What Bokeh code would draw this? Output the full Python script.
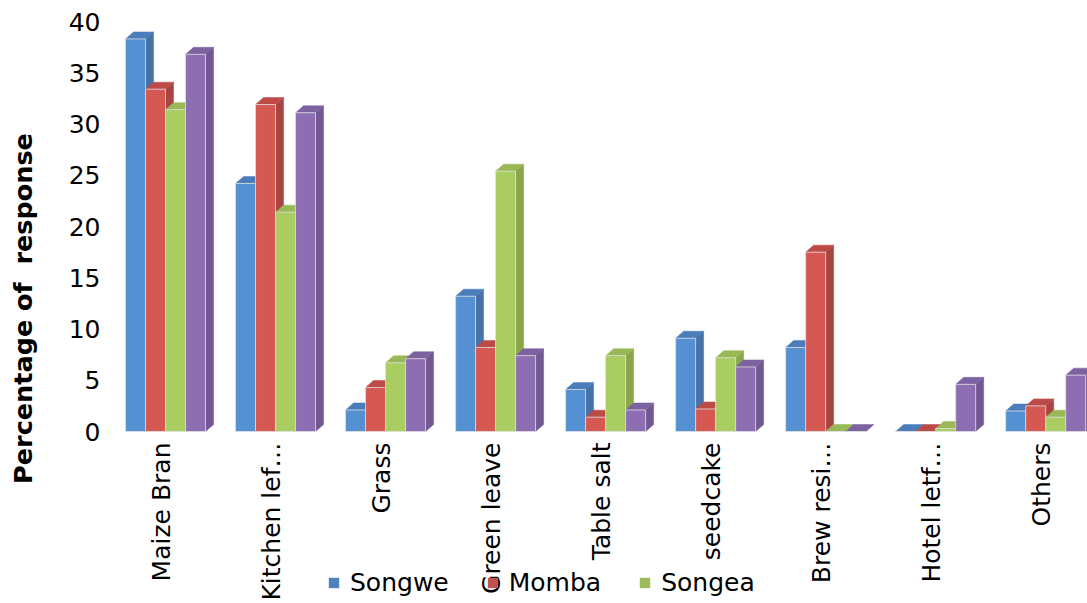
import math
from bokeh.plotting import figure
from bokeh.models import Range1d, FixedTicker, Label, Legend, LegendItem, ColumnDataSource
from bokeh.embed import file_html
from bokeh.resources import INLINE

categories = ["Maize Bran", "Kitchen lef\u2026", "Grass", "Green leave", "Table salt",
              "seedcake", "Brew resi\u2026", "Hotel letf\u2026", "Others"]
songwe = [38.3, 24.2, 2.1, 13.2, 4.1, 9.1, 8.2, 0.0, 2.0]
momba = [33.4, 31.9, 4.3, 8.2, 1.4, 2.2, 17.5, 0.0, 2.5]
songea = [31.4, 21.4, 6.7, 25.4, 7.4, 7.2, 0.0, 0.3, 1.4]
fourth = [36.8, 31.1, 7.1, 7.4, 2.1, 6.3, 0.0, 4.6, 5.5]
series_names = ["Songwe", "Momba", "Songea", "Series 4"]
y_ticks = [0, 5, 10, 15, 20, 25, 30, 35, 40]
y_title = "Percentage of\u00a0 response"

series = [songwe, momba, songea, fourth]
front_colors = ["#5590D2", "#D55853", "#AACD62", "#8D6EB2"]
side_colors = ["#4672A8", "#A84442", "#8AA64B", "#715890"]
top_colors = ["#4A7DBA", "#BD4A47", "#98B955", "#7C62A0"]
legend_colors = ["#4F81BD", "#C0504D", "#9BBB59"]

FONT = "DejaVu Sans"
W = 20 / 110.0        # bar width in category units
DX = 8 / 110.0        # depth offset x
DY = 7 / 10.25        # depth offset y
SHIFT = 0.04
X0 = -0.46            # left edge of plotting band

p = figure(width=1087, height=603, x_range=Range1d(-1.46, 8.42), y_range=Range1d(-16.78, 42.05),
           min_border_left=0, min_border_right=0, min_border_top=0, min_border_bottom=0,
           toolbar_location=None, output_backend="svg", outline_line_color=None)
p.xgrid.visible = False
p.ygrid.visible = False

n = len(categories)
sources = []
for k, vals in enumerate(series):
    lefts = [i + SHIFT - 2 * W + k * W for i in range(n)]
    rights = [l + W for l in lefts]
    side_xs = [[r, r + DX, r + DX, r] for r in rights]
    side_ys = [[0, DY, v + DY, v] for v in vals]
    top_xs = [[l, l + DX, r + DX, r] for l, r in zip(lefts, rights)]
    top_ys = [[v, v + DY, v + DY, v] for v in vals]
    p.patches(side_xs, side_ys, fill_color=side_colors[k], line_color=side_colors[k], line_width=0.5)
    p.patches(top_xs, top_ys, fill_color=top_colors[k], line_color=top_colors[k], line_width=0.5)
    src = ColumnDataSource(dict(x=[l + W / 2 for l in lefts], top=vals))
    sources.append(src)
    p.vbar(x="x", top="top", bottom=0, width=W, source=src,
           fill_color=front_colors[k], line_color="#E0E0E0", line_width=0.8)

ya = p.yaxis[0]
ya.fixed_location = X0
ya.ticker = FixedTicker(ticks=y_ticks)
ya.axis_line_color = None
ya.major_tick_line_color = None
ya.minor_tick_line_color = None
ya.major_tick_in = 0
ya.major_tick_out = 0
ya.major_label_standoff = 10
ya.major_label_text_font = FONT
ya.major_label_text_font_size = "25px"
ya.major_label_text_color = "#000000"

xa = p.xaxis[0]
xa.fixed_location = 0
xa.ticker = FixedTicker(ticks=list(range(n)))
xa.major_label_overrides = {i: c for i, c in enumerate(categories)}
xa.major_label_orientation = math.pi / 2
xa.axis_line_color = None
xa.major_tick_line_color = None
xa.minor_tick_line_color = None
xa.major_tick_in = 0
xa.major_tick_out = 0
xa.major_label_standoff = 11
xa.major_label_text_font = FONT
xa.major_label_text_font_size = "25px"
xa.major_label_text_color = "#000000"

# legend entries: hidden copies of the series carrying the legend colours
items = []
for k in range(3):
    r = p.vbar(x="x", top="top", bottom=0, width=W, source=sources[k],
               fill_color=legend_colors[k], line_color=None, visible=False)
    items.append(LegendItem(label=series_names[k], renderers=[r]))
legend = Legend(items=items, location=(327, 6), orientation="horizontal",
                border_line_color=None, background_fill_alpha=0, padding=0, margin=0,
                spacing=37, label_standoff=10, glyph_width=13, glyph_height=13,
                label_text_font=FONT, label_text_font_size="25px", label_text_color="#000000")
p.add_layout(legend)

title = Label(x=22, y=295, x_units="screen", y_units="screen", text=y_title,
              angle=math.pi / 2, text_align="center", text_baseline="middle",
              text_font=FONT, text_font_size="25.5px", text_font_style="bold", text_color="#000000")
p.add_layout(title)

open("out.html", "w").write(file_html(p, INLINE))
